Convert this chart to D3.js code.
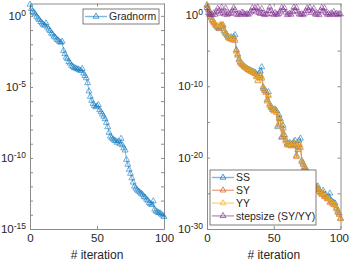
<!DOCTYPE html>
<html>
<head>
<meta charset="utf-8">
<script src="https://cdn.jsdelivr.net/npm/d3@7"></script>
<style>
body { margin: 0; background: #fff; }
text { font-family: "Liberation Sans", Arial, sans-serif; fill: #262626; }
</style>
</head>
<body>
<svg id="chart" width="349" height="261"></svg>
<script>
// iterations 0..100
var iterations = d3.range(0, 101);
var xTicks = [0, 50, 100];

// log10 of the plotted values
var gradnormExp = [
 0.80, 0.50, 0.30, 0.22, 0.12, -0.05, -0.18, -0.28, -0.42, -0.52,
 -0.62, -0.68, -0.52, -0.80, -0.95, -1.05, -1.22, -1.30, -1.45, -1.52,
 -1.66, -1.72, -1.82, -1.88, -1.80, -2.45, -2.68, -2.92, -3.02, -3.24,
 -3.34, -3.50, -3.58, -3.66, -3.68, -3.74, -3.76, -3.82, -3.86, -3.72,
 -4.05, -4.22, -4.38, -4.72, -5.30, -5.68, -5.96, -6.18, -6.32, -6.42,
 -6.36, -6.26, -6.62, -6.76, -6.92, -7.08, -7.26, -7.52, -7.82, -8.22,
 -8.48, -8.60, -8.68, -8.76, -8.80, -8.92, -8.82, -9.02, -8.64, -9.10,
 -9.30, -9.46, -10.12, -10.46, -10.82, -11.10, -11.42, -11.72, -12.00, -12.14,
 -12.26, -12.34, -12.42, -12.50, -12.58, -12.72, -12.78, -12.92, -13.00, -13.16,
 -13.24, -13.30, -13.04, -13.62, -13.74, -13.80, -13.86, -13.88, -13.96, -14.04,
 -14.14];

var ssExp = [
 1.40, 0.90, 0.20, -0.30, -0.70, -0.97, -1.25, -1.50, -1.70, -1.90,
 -1.62, -1.52, -1.40, -2.20, -2.55, -2.80, -3.05, -3.30, -3.10, -3.45,
 -3.05, -2.80, -4.90, -5.50, -6.20, -6.60, -6.85, -7.00, -7.20, -7.35,
 -7.50, -7.62, -7.70, -7.82, -7.90, -8.00, -8.06, -8.30, -8.60, -8.20,
 -7.90, -7.30, -10.10, -10.40, -10.70, -11.90, -10.80, -12.50, -12.90, -13.10,
 -13.30, -13.20, -13.40, -15.70, -14.05, -14.60, -17.10, -15.50, -16.80, -17.50,
 -18.00, -18.10, -17.90, -18.20, -18.00, -17.80, -17.60, -19.70, -18.50, -17.60,
 -17.30, -20.40, -20.80, -21.30, -21.50, -22.00, -22.20, -22.50, -23.00, -23.30,
 -23.60, -23.90, -24.20, -24.00, -24.50, -24.80, -25.00, -24.60, -25.30, -25.20,
 -25.60, -25.50, -25.00, -26.00, -26.20, -26.30, -26.40, -27.00, -27.50, -27.80,
 -28.50];

var syExp = [
 1.30, 0.70, 0.05, -0.45, -0.80, -1.10, -1.35, -1.55, -1.80, -1.95,
 -1.50, -1.45, -1.60, -2.35, -2.65, -2.95, -3.20, -3.40, -3.35, -3.55,
 -3.25, -3.60, -5.00, -5.70, -6.35, -6.70, -6.95, -7.10, -7.30, -7.45,
 -7.60, -7.70, -7.85, -7.95, -8.05, -8.15, -8.25, -8.70, -9.20, -8.80,
 -8.50, -8.90, -10.30, -10.60, -10.90, -12.10, -11.30, -12.70, -13.00, -13.30,
 -13.50, -13.40, -13.70, -15.50, -14.50, -15.00, -17.20, -15.90, -17.00, -17.70,
 -18.20, -18.30, -18.10, -18.40, -18.25, -18.00, -18.30, -19.90, -18.90, -18.20,
 -18.60, -20.60, -21.00, -21.50, -21.70, -22.20, -22.40, -22.80, -23.20, -23.50,
 -23.80, -24.10, -24.40, -24.30, -24.70, -25.00, -25.20, -25.00, -25.50, -25.50,
 -25.80, -25.80, -26.30, -26.20, -26.50, -26.60, -26.70, -27.20, -27.70, -28.00,
 -28.60];

var yyExp = [
 1.35, 0.80, 0.10, -0.35, -0.75, -1.00, -1.30, -1.45, -1.75, -1.50,
 -1.30, -1.40, -1.55, -2.30, -2.60, -2.90, -3.15, -3.35, -3.25, -3.50,
 -3.20, -3.45, -5.20, -5.60, -6.30, -6.65, -6.90, -7.05, -7.25, -7.40,
 -7.55, -7.65, -7.80, -7.90, -8.00, -8.10, -8.20, -8.60, -9.30, -8.70,
 -8.40, -8.70, -10.20, -10.50, -10.80, -12.00, -11.20, -12.60, -12.95, -13.20,
 -13.40, -13.30, -13.60, -15.60, -14.30, -14.80, -17.00, -15.80, -16.90, -17.60,
 -18.10, -18.20, -18.00, -18.30, -18.10, -17.90, -18.00, -19.80, -18.80, -18.00,
 -18.30, -20.50, -20.90, -21.40, -21.60, -22.10, -22.30, -22.70, -23.10, -23.40,
 -23.70, -24.00, -24.30, -24.20, -24.60, -24.90, -25.10, -24.90, -25.40, -25.40,
 -25.70, -25.70, -26.20, -26.10, -26.40, -26.50, -26.60, -27.10, -27.60, -27.90,
 -28.55];

var stepExp = [
 1.00, 0.30, 0.05, 0.10, 0.00, 0.25, 0.05, 0.45, 0.90, 0.60,
 0.20, 1.05, 0.30, 0.10, 0.95, 0.00, 0.20, 0.15, 0.30, 0.55,
 1.00, 0.70, 0.10, 0.00, 0.20, 0.05, 0.35, 0.30, 0.10, 0.05,
 0.15, 0.05, 0.25, 0.50, 1.00, 0.60, 0.95, 0.40, 1.05, 0.30,
 0.15, 0.85, 0.20, 0.00, 0.10, 0.10, 0.55, 1.05, 0.60, 0.15,
 0.00, 0.30, 0.10, 0.05, 0.20, 0.50, 1.00, 0.70, 0.95, 0.35,
 0.00, 0.10, 0.20, 0.05, 0.45, 1.05, 0.60, 1.00, 0.40, 0.10,
 0.05, 0.15, 0.00, 0.20, 0.55, 0.95, 0.65, 1.05, 0.30, 0.50,
 0.90, 0.10, 0.05, 0.20, 0.00, 0.60, 1.00, 0.50, 0.95, 0.30,
 0.05, 0.15, 0.00, 0.25, 0.10, 0.45, 0.05, 0.20, 0.00, 0.15,
 0.10];

var leftSeries = [
  {name: "Gradnorm", exp: gradnormExp, color: "#0072BD"}
];
var rightSeries = [
  {name: "SS", exp: ssExp, color: "#0072BD"},
  {name: "SY", exp: syExp, color: "#D95319"},
  {name: "YY", exp: yyExp, color: "#EDB120"},
  {name: "stepsize (SY/YY)", exp: stepExp, color: "#7E2F8E"}
];

var leftYLabels = [0, -5, -10, -15];
var leftYTickExps = d3.range(-15, 1);
var rightYLabels = [0, -10, -20, -30];
var rightYTickExps = [-30, -25, -20, -15, -10, -5, 0];

var svg = d3.select("#chart");
var tri = d3.symbol().type(d3.symbolTriangle).size(15);

function supLabel(sel, labels) {
  sel.each(function(d) {
    var e = Math.round(Math.log10(d));
    var t = d3.select(this).text("");
    if (labels.indexOf(e) < 0) return;
    t.append("tspan").text("10");
    t.append("tspan").attr("dy", "-0.45em").attr("font-size", "8.5px").text(e);
  });
}

function drawPanel(p) {
  var x = d3.scaleLinear().domain([0, 100]).range([p.x0, p.x1]);
  var y = d3.scaleLog().domain([p.yMin, p.yMax]).range([229, 3.5]);
  var g = svg.append("g");

  var yTicks = p.tickExps.map(function(e) { return Math.pow(10, e); });

  var axisStyle = function(a) {
    a.select(".domain").attr("stroke", "#8c8c8c");
    a.selectAll(".tick line").attr("stroke", "#8c8c8c");
    a.selectAll("text").attr("fill", "#262626").attr("font-size", "11.5px");
  };

  var xAx = g.append("g").attr("transform", "translate(0,229)")
    .call(d3.axisBottom(x).tickValues(xTicks).tickSize(-3).tickSizeOuter(0).tickPadding(5))
    .call(axisStyle);
  // keep the last x label inside the window
  xAx.selectAll(".tick text").filter(function(d) { return x(d) + 10 > 349; })
    .attr("text-anchor", "end").attr("x", 349 - p.x1 - 0.5);
  g.append("g").attr("transform", "translate(0,3.5)")
    .call(d3.axisTop(x).tickValues(xTicks).tickSize(-3).tickSizeOuter(0).tickFormat(""))
    .call(axisStyle);
  g.append("g").attr("transform", "translate(" + p.x0 + ",0)")
    .call(d3.axisLeft(y).tickValues(yTicks).tickSize(-3).tickSizeOuter(0).tickPadding(4))
    .call(axisStyle)
    .selectAll(".tick text").call(supLabel, p.labels);
  g.append("g").attr("transform", "translate(" + p.x1 + ",0)")
    .call(d3.axisRight(y).tickValues(yTicks).tickSize(-3).tickSizeOuter(0).tickFormat(""))
    .call(axisStyle);

  g.append("text")
    .attr("x", (p.x0 + p.x1) / 2).attr("y", 258.5)
    .attr("text-anchor", "middle").attr("font-size", "12px")
    .text("# iteration");

  var line = d3.line()
    .x(function(d) { return x(d[0]); })
    .y(function(d) { return y(d[1]); });

  p.series.forEach(function(s) {
    var pts = iterations.map(function(it, i) { return [it, Math.pow(10, s.exp[i])]; });
    var sg = g.append("g");
    sg.append("path").datum(pts)
      .attr("d", line).attr("fill", "none")
      .attr("stroke", s.color).attr("stroke-width", 0.9).attr("stroke-opacity", 0.55);
    sg.selectAll("path.m").data(pts).enter().append("path")
      .attr("class", "m")
      .attr("d", tri)
      .attr("transform", function(d) { return "translate(" + x(d[0]) + "," + y(d[1]) + ")"; })
      .attr("fill", "none").attr("stroke", s.color)
      .attr("stroke-width", 0.7).attr("stroke-opacity", 0.8);
  });

  // legend
  var L = p.legend;
  var lg = g.append("g");
  lg.append("rect")
    .attr("x", L.x).attr("y", L.y).attr("width", L.w).attr("height", L.h)
    .attr("fill", "#fff").attr("stroke", "#262626").attr("stroke-width", 0.6);
  p.series.forEach(function(s, i) {
    var cy = L.y + L.first + i * L.step;
    lg.append("line")
      .attr("x1", L.x + 2).attr("x2", L.x + 24).attr("y1", cy).attr("y2", cy)
      .attr("stroke", s.color).attr("stroke-width", 1.4).attr("stroke-opacity", 0.5);
    lg.append("path").attr("d", tri)
      .attr("transform", "translate(" + (L.x + 13) + "," + cy + ")")
      .attr("fill", "none").attr("stroke", s.color).attr("stroke-width", 0.7);
    lg.append("text")
      .attr("x", L.x + 26).attr("y", cy).attr("dy", "0.35em")
      .attr("font-size", "10.5px").text(s.name);
  });
}

drawPanel({
  x0: 30, x1: 164, yMin: 1e-15, yMax: Math.pow(10, 0.87),
  tickExps: leftYTickExps, labels: leftYLabels, series: leftSeries,
  legend: {x: 83, y: 9, w: 76, h: 15, first: 7.5, step: 12.6}
});
drawPanel({
  x0: 207, x1: 340.5, yMin: 1e-30, yMax: Math.pow(10, 1.6),
  tickExps: rightYTickExps, labels: rightYLabels, series: rightSeries,
  legend: {x: 210, y: 170, w: 106, h: 55, first: 7.5, step: 12.8}
});
</script>
</body>
</html>
